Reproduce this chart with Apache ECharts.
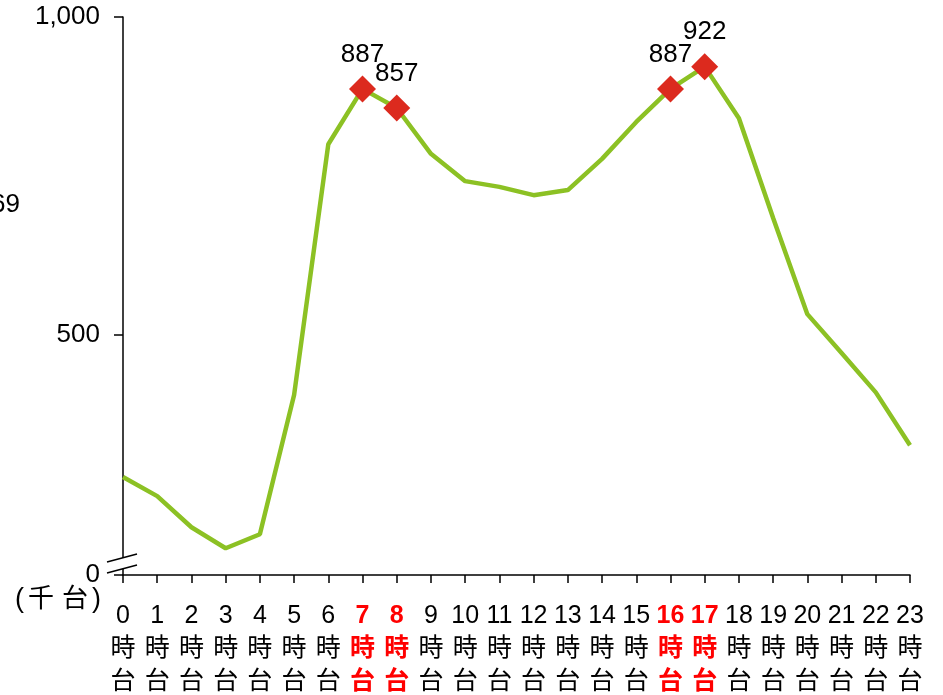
<!DOCTYPE html>
<html>
<head>
<meta charset="utf-8">
<script src="https://cdn.jsdelivr.net/npm/echarts@6/dist/echarts.min.js"></script>
<style>
  html, body { margin: 0; padding: 0; background: #fff; }
  #trafficChart { width: 943px; height: 695px; }
</style>
</head>
<body>
<div id="trafficChart"></div>
<script>
// 時間帯別の交通量（千台）
const hours = ["0", "1", "2", "3", "4", "5", "6", "7", "8", "9", "10", "11",
  "12", "13", "14", "15", "16", "17", "18", "19", "20", "21", "22", "23"];
const traffic = [277, 247, 198, 165, 187, 406, 800, 887, 857, 785, 742, 733,
  720, 728, 777, 835, 887, 922, 841, 684, 533, 472, 410, 327];
const peakHours = ["7", "8", "16", "17"];
// 軸は途中を省略している（下端を「0」と表示）
const axisBottom = 123;
const yTickValues = [123, 500, 1000];

const FONT = "'Liberation Sans', Arial, 'Noto Sans CJK JP', sans-serif";
const GREEN = "#8cc124";
const RED = "#dc2a1e";

let myChart = echarts.init(document.getElementById("trafficChart"));

const seriesData = traffic.map(function (v, i) {
  if (peakHours.indexOf(hours[i]) >= 0) {
    return {
      value: v,
      symbol: "diamond",
      symbolSize: 27,
      itemStyle: { color: RED },
      label: { show: true },
    };
  }
  return { value: v, symbol: "none" };
});

let option = {
  animation: false,
  grid: {
    left: 123,
    right: 33,
    top: 17,
    bottom: 120,
    containLabel: false,
    outerBoundsMode: "none",
  },
  xAxis: {
    type: "category",
    boundaryGap: false,
    data: hours,
    axisLine: { lineStyle: { color: "#000", width: 1.5 } },
    axisTick: { length: 8, lineStyle: { color: "#000", width: 1.5 } },
    axisLabel: {
      interval: 0,
      margin: 25,
      fontFamily: FONT,
      fontSize: 25,
      lineHeight: 33,
      color: "#000",
      formatter: function (v) {
        if (peakHours.indexOf(v) >= 0) {
          return "{r|" + v + "}\n{r|時}\n{r|台}";
        }
        return v + "\n時\n台";
      },
      rich: {
        r: {
          color: "#ff0000",
          fontWeight: "bold",
          fontFamily: FONT,
          fontSize: 25,
          lineHeight: 33,
        },
      },
    },
  },
  yAxis: {
    type: "value",
    min: axisBottom,
    max: 1000,
    splitLine: { show: false },
    axisLine: { show: true, lineStyle: { color: "#000", width: 1.5 } },
    axisTick: {
      show: true,
      length: 9,
      customValues: yTickValues,
      lineStyle: { color: "#000", width: 1.5 },
    },
    axisLabel: {
      margin: 23,
      fontFamily: FONT,
      fontSize: 26,
      color: "#000",
      customValues: yTickValues,
      formatter: function (v) {
        if (v === axisBottom) return "0";
        return v.toLocaleString("en-US");
      },
    },
  },
  series: [
    {
      type: "line",
      data: seriesData,
      lineStyle: { color: GREEN, width: 4.5 },
      itemStyle: { color: RED },
      z: 3,
      label: {
        show: false,
        position: "top",
        distance: 8,
        fontFamily: FONT,
        fontSize: 26,
        color: "#000",
      },
    },
  ],
};

myChart.setOption(option);

// 省略記号（＝）と単位などの装飾
const p = myChart.convertToPixel({ gridIndex: 0 }, ["0", axisBottom]);
const ax = p[0];
const ay = p[1];
myChart.setOption({
  graphic: [
    {
      type: "polygon",
      shape: { points: [[ax - 16, ay - 13], [ax + 14, ay - 21], [ax + 14, ay - 10], [ax - 16, ay - 2]] },
      style: { fill: "#fff" },
      z: 10,
    },
    {
      type: "line",
      shape: { x1: ax - 16, y1: ay - 13, x2: ax + 14, y2: ay - 21 },
      style: { stroke: "#000", lineWidth: 1.5 },
      z: 11,
    },
    {
      type: "line",
      shape: { x1: ax - 16, y1: ay - 2, x2: ax + 14, y2: ay - 10 },
      style: { stroke: "#000", lineWidth: 1.5 },
      z: 11,
    },
    {
      type: "text",
      left: 15,
      top: 586,
      style: {
        text: "{p|(}{c|千}{c|台}{p|)}",
        fontFamily: FONT,
        fontSize: 26,
        fill: "#000",
        rich: {
          p: { fontFamily: FONT, fontSize: 27 },
          c: { fontFamily: FONT, fontSize: 26, padding: [0, 4] },
        },
      },
    },
    {
      type: "text",
      x: 20,
      y: 205,
      style: {
        text: "769",
        fontFamily: FONT,
        fontSize: 26,
        fill: "#000",
        align: "right",
        verticalAlign: "middle",
      },
    },
  ],
});

window.addEventListener("resize", function () {
  myChart.resize();
});
</script>
</body>
</html>
